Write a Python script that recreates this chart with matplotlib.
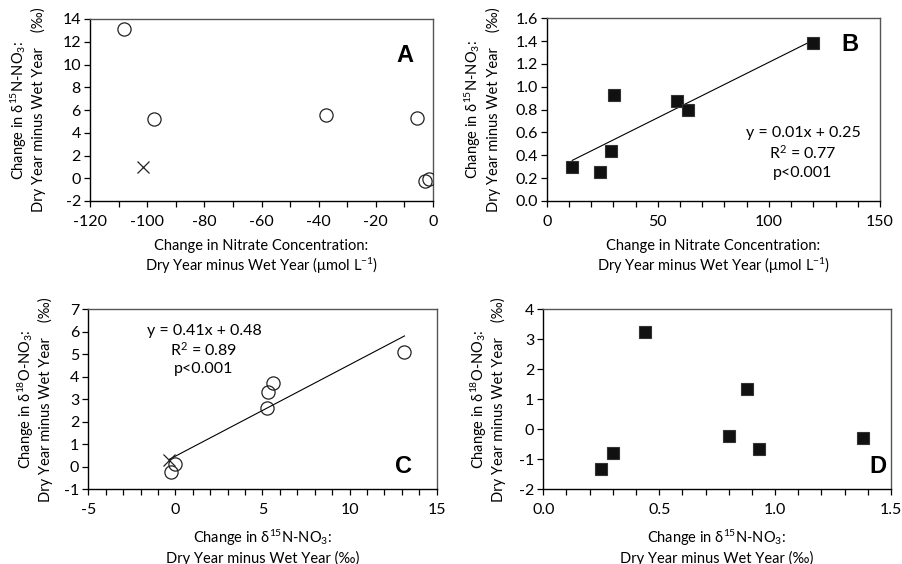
import numpy as np
import matplotlib
matplotlib.use("Agg")
import matplotlib.pyplot as plt
from matplotlib.ticker import MultipleLocator, FormatStrFormatter

plt.rcParams['font.family'] = ['Lato', 'DejaVu Sans']
plt.rcParams['mathtext.fontset'] = 'custom'
plt.rcParams['mathtext.rm'] = 'Lato'
plt.rcParams['mathtext.it'] = 'Lato:italic'
plt.rcParams['mathtext.bf'] = 'Lato:bold'
plt.rcParams['mathtext.default'] = 'regular'

# ---- data ----
a_x = [-108, -97.5, -37.5, -5.5, -2.8, -1.5]
a_y = [13.1, 5.25, 5.6, 5.3, -0.25, -0.05]
a_x_cross = [-101.3]
a_y_cross = [1.0]

b_x = [11.5, 24, 29, 30.5, 58.5, 63.5, 120]
b_y = [0.30, 0.25, 0.44, 0.93, 0.88, 0.80, 1.38]

c_x = [13.15, 5.6, 5.3, 5.25, 0.0, -0.25]
c_y = [5.1, 3.72, 3.33, 2.62, 0.12, -0.22]
c_x_cross = [-0.35]
c_y_cross = [0.3]

d_x = [0.25, 0.30, 0.44, 0.80, 0.88, 0.93, 1.38]
d_y = [-1.33, -0.80, 3.23, -0.22, 1.36, -0.67, -0.30]

b_eq = ["y = 0.01x + 0.25", "R$^2$ = 0.77", "p<0.001"]
c_eq = ["y = 0.41x + 0.48", "R$^2$ = 0.89", "p<0.001"]

FS = 10.5
TFS = 11.5
fig = plt.figure(figsize=(9.03, 5.64), dpi=100)
W, H = 903, 564

def add_ax(l, r, t, b):
    return fig.add_axes([l / W, 1 - b / H, (r - l) / W, (b - t) / H])

axA = add_ax(90, 433, 19, 201)
axB = add_ax(546.7, 880, 18.3, 201)
axC = add_ax(88.3, 436.7, 309.3, 489.3)
axD = add_ax(543.3, 891, 309.3, 489.3)

def style(ax, xlim, ylim, xmaj, xmin, ymaj, xfmt, yfmt):
    ax.set_xlim(*xlim)
    ax.set_ylim(*ylim)
    ax.xaxis.set_major_locator(MultipleLocator(xmaj))
    ax.xaxis.set_minor_locator(MultipleLocator(xmin))
    ax.yaxis.set_major_locator(MultipleLocator(ymaj))
    ax.xaxis.set_major_formatter(FormatStrFormatter(xfmt))
    ax.yaxis.set_major_formatter(FormatStrFormatter(yfmt))
    ax.tick_params(axis='x', which='both', direction='out', length=4, width=0.9,
                   pad=6, labelsize=TFS, colors='black')
    ax.tick_params(axis='y', which='major', direction='out', length=4.5, width=0.9,
                   pad=2, labelsize=TFS, colors='black')
    for s in ['left', 'bottom']:
        ax.spines[s].set_color('black')
        ax.spines[s].set_linewidth(1.0)
    for s in ['top', 'right']:
        ax.spines[s].set_color('#555555')
        ax.spines[s].set_linewidth(1.0)

style(axA, (-120, 0), (-2, 14), 20, 10, 2, '%d', '%d')
style(axB, (0, 150), (0, 1.6), 50, 10, 0.2, '%d', '%.1f')
style(axC, (-5, 15), (-1, 7), 5, 1, 1, '%d', '%d')
style(axD, (0, 1.5), (-2, 4), 0.5, 0.1, 1, '%.1f', '%d')

circ = dict(marker='o', linestyle='none', markersize=9.5, markerfacecolor='none',
            markeredgecolor='#222222', markeredgewidth=0.9, zorder=3)
cross = dict(marker='x', linestyle='none', markersize=8, color='#222222',
             markeredgewidth=0.9, zorder=3)
sq = dict(marker='s', linestyle='none', markersize=8.5, color='#111111',
          markeredgecolor='#333333', markeredgewidth=0.8, zorder=3)

# A
axA.plot(a_x, a_y, **circ)
axA.plot(a_x_cross, a_y_cross, **cross)

# B
axB.plot(b_x, b_y, **sq)
kb = np.polyfit(b_x, b_y, 1)
xb = np.array([min(b_x), max(b_x)])
axB.plot(xb, np.polyval(kb, xb), color='black', lw=0.8, zorder=2)

# C
cx_all = c_x + c_x_cross
cy_all = c_y + c_y_cross
kc = np.polyfit(cx_all, cy_all, 1)
xc = np.array([min(cx_all), max(cx_all)])
axC.plot(xc, np.polyval(kc, xc), color='black', lw=0.8, zorder=2)
axC.plot(c_x, c_y, **circ)
axC.plot(c_x_cross, c_y_cross, **cross)

# D
axD.plot(d_x, d_y, **sq)

# equations
for txt, yy in zip(b_eq, [0.372, 0.263, 0.153]):
    axB.text(0.769, yy, txt, transform=axB.transAxes, ha='center', va='center',
             fontsize=FS + 1)
for txt, yy in zip(c_eq, [0.881, 0.774, 0.667]):
    axC.text(0.332, yy, txt, transform=axC.transAxes, ha='center', va='center',
             fontsize=FS + 1)

# panel letters
letter = dict(fontsize=17, fontweight='bold', ha='center', va='center',
              family=['Liberation Sans', 'DejaVu Sans'])
axA.text(0.918, 0.802, 'A', transform=axA.transAxes, **letter)
axB.text(0.91, 0.854, 'B', transform=axB.transAxes, **letter)
axC.text(0.904, 0.126, 'C', transform=axC.transAxes, **letter)
axD.text(0.963, 0.126, 'D', transform=axD.transAxes, **letter)

# axis labels
ylab_n = "Change in δ$^{15}$N-NO$_3$:\nDry Year minus Wet Year    (‰)"
ylab_o = "Change in δ$^{18}$O-NO$_3$:\nDry Year minus Wet Year    (‰)"
xlab_c = "Change in Nitrate Concentration:\nDry Year minus Wet Year (μmol L$^{-1}$)"
xlab_d = "Change in δ$^{15}$N-NO$_3$:\nDry Year minus Wet Year (‰)"

def ylab(x, y, s):
    fig.text(x / W, 1 - y / H, s, rotation=90, ha='center', va='center',
             multialignment='center', fontsize=FS, linespacing=1.2)

def xlab(x, y, s):
    fig.text(x / W, 1 - y / H, s, ha='center', va='center',
             multialignment='center', fontsize=FS, linespacing=1.2)

ylab(27.5, 110, ylab_n)
ylab(481.7, 109.7, ylab_n)
ylab(34.2, 399.3, ylab_o)
ylab(487.5, 399.3, ylab_o)

xlab(261.5, 257.5, xlab_c)
xlab(713.3, 257.5, xlab_c)
xlab(262.5, 546.7, xlab_d)
xlab(717, 546.7, xlab_d)

fig.savefig('out.png', dpi=100)
